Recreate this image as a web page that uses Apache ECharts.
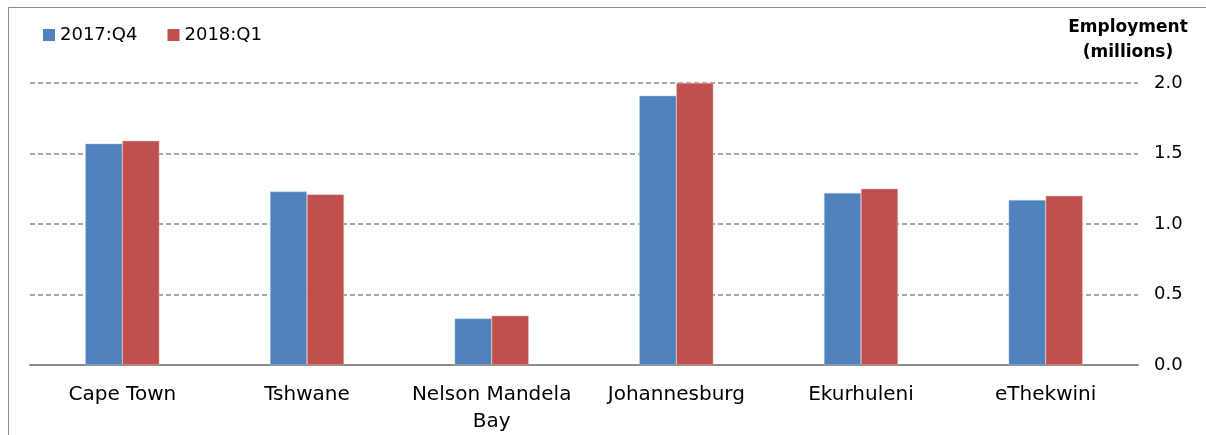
<!DOCTYPE html>
<html>
<head>
<meta charset="utf-8">
<script src="https://cdn.jsdelivr.net/npm/echarts@6/dist/echarts.min.js"></script>
<style>
html,body{margin:0;padding:0;background:#fff;}
#chart{width:1206px;height:435px;}
</style>
</head>
<body>
<div id="chart"></div>
<script>
const categories = ['Cape Town', 'Tshwane', 'Nelson Mandela\nBay', 'Johannesburg', 'Ekurhuleni', 'eThekwini'];
const seriesNames = ['2017:Q4', '2018:Q1'];
const q4_2017 = [1.57, 1.23, 0.33, 1.91, 1.22, 1.17];
const q1_2018 = [1.59, 1.21, 0.35, 2.00, 1.25, 1.20];
const yTicks = { min: 0, max: 2, interval: 0.5 };
const axisTitle = 'Employment\n(millions)';

const FONT = 'DejaVu Sans';
const chart = echarts.init(document.getElementById('chart'), null, { renderer: 'canvas' });
chart.setOption({
  animation: false,
  textStyle: { fontFamily: FONT },
  graphic: [{
    type: 'polyline',
    shape: { points: [[8.5, 435], [8.5, 7.5], [1206, 7.5]] },
    style: { stroke: '#8c8c8c', lineWidth: 1, fill: null }
  }, {
    type: 'text',
    x: 1128, y: 15,
    style: { text: axisTitle, font: 'bold 17px ' + FONT, fill: '#000', align: 'center', textAlign: 'center', lineHeight: 25 }
  }],
  legend: {
    left: 38, top: 21,
    itemWidth: 12, itemHeight: 12, itemGap: 30,
    icon: 'rect',
    itemStyle: { borderWidth: 0 },
    textStyle: { fontSize: 18, color: '#000', fontFamily: FONT },
    data: seriesNames
  },
  grid: { left: 30, right: 68, top: 83, bottom: 70 },
  xAxis: {
    type: 'category',
    data: categories,
    axisLine: { lineStyle: { color: '#8c8c8c', width: 2 } },
    axisTick: { show: false },
    axisLabel: { interval: 0, color: '#000', fontSize: 20, margin: 16, lineHeight: 27, fontFamily: FONT }
  },
  yAxis: {
    type: 'value',
    position: 'right',
    min: yTicks.min, max: yTicks.max, interval: yTicks.interval,
    axisLine: { show: false },
    axisTick: { show: false },
    axisLabel: { color: '#000', fontSize: 18, margin: 16, formatter: v => v.toFixed(1), fontFamily: FONT },
    splitLine: { lineStyle: { color: '#8c8c8c', type: [5, 3], width: 1.5 } }
  },
  series: [{
    name: seriesNames[0], type: 'bar', data: q4_2017,
    barWidth: 37, barGap: '0%',
    itemStyle: { color: '#4f81bd', borderColor: '#b9cde5', borderWidth: 0.5 }
  }, {
    name: seriesNames[1], type: 'bar', data: q1_2018,
    barWidth: 37, barGap: '0%',
    itemStyle: { color: '#c0504d', borderColor: '#e6b9b8', borderWidth: 0.5 }
  }]
});
</script>
</body>
</html>
